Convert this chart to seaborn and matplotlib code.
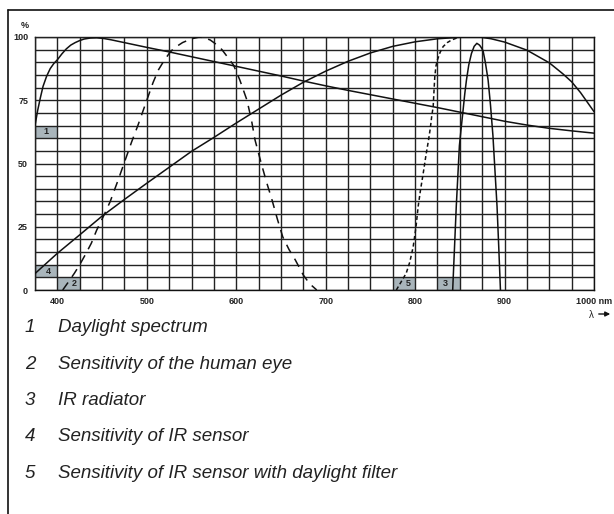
import numpy as np
import pandas as pd
import matplotlib
matplotlib.use("Agg")
import matplotlib.pyplot as plt
from matplotlib.patches import Rectangle
from matplotlib.lines import Line2D
import seaborn as sns

# ---- data (wavelength in nm, value in %) ----
daylight_nm = [375, 378, 381, 384, 388, 392, 396, 400, 405, 410, 415, 420, 425, 430,
               437, 444, 452, 460, 480, 500, 525, 550, 575, 600, 625, 650, 675, 700,
               725, 750, 775, 800, 825, 850, 875, 900, 925, 950, 975, 1000]
daylight_pct = [65, 71, 76, 80.5, 84.5, 87.5, 89.5, 91, 93.3, 95.3, 96.8, 97.8, 98.6, 99.2,
                99.6, 99.7, 99.4, 98.9, 97.4, 95.9, 94.1, 92.2, 90.3, 88.4, 86.5, 84.6, 82.6, 80.7,
                78.9, 77.2, 75.5, 73.8, 72.1, 70.3, 68.5, 66.7, 65.2, 63.9, 62.9, 62]

eye_nm = [406, 412, 419, 425, 431, 438, 444, 452, 459, 468, 475, 483, 490, 500, 507, 513,
          519, 525, 530, 540, 550, 559, 566, 571, 578, 584, 590, 597, 604, 612, 617, 621,
          628, 634, 640, 646, 652, 659, 666, 675, 682, 690]
eye_pct = [0, 3, 6.6, 10, 13.8, 18.5, 23.7, 29.5, 34.9, 43.5, 50.5, 58.5, 65, 75, 82, 87,
           90.5, 93.5, 95.5, 97.8, 99.3, 100, 99.5, 98.8, 97, 95, 92.2, 88.9, 83, 75, 67.2, 59.3,
           50, 42.5, 35.6, 28, 21, 16, 11.9, 5.9, 2.5, 0]

radiator_nm = [842, 846, 849.5, 851.5, 853.6, 855.5, 857.4, 860, 863, 866, 869, 872, 874,
               876, 878.5, 881.6, 884.3, 887, 889.3, 891.6, 893.5, 895.4]
radiator_pct = [0, 33, 57, 64, 71, 77.5, 83, 89, 93.5, 96.3, 97.5, 96.8, 95.8,
                94.5, 90, 83, 73, 61, 47, 33, 17, 0]

sensor_nm = [375, 400, 425, 450, 475, 500, 525, 550, 575, 600, 625, 650, 675, 700, 725,
             750, 775, 800, 825, 850, 872, 885, 900, 925, 950, 965, 975, 985, 1000]
sensor_pct = [6.5, 14.5, 21.8, 29.2, 35.8, 42.2, 48.5, 54.8, 60.3, 66, 71.5, 77, 82.1, 86.5, 90.4,
              93.7, 96.3, 98.1, 99.3, 99.9, 100, 99.3, 98, 94.8, 89.8, 85.5, 82.3, 78, 70.5]

filter_nm = [779, 784, 790, 794, 797.8, 801, 803.4, 806, 809, 812, 815, 817, 818.5, 820.2,
             821, 822, 823.3, 825, 828, 831.3, 836, 840.7, 848]
filter_pct = [0, 3, 6.6, 11, 17, 25, 33, 39.5, 46, 53, 59.3, 64, 68.5, 72.5,
              78, 84.3, 88.5, 91, 94, 96.2, 97.8, 98.8, 99.8]

# numbered grey cells: label, lower-left nm, lower-left %, text nm
cell_labels = ["1", "2", "3", "4", "5"]
cell_nm = [375, 400, 825, 375, 775]
cell_pct = [60, 0, 0, 5, 0]
cell_text_nm = [387.5, 419, 834, 390, 792]

legend_items = ["Daylight spectrum",
                "Sensitivity of the human eye",
                "IR radiator",
                "Sensitivity of IR sensor",
                "Sensitivity of IR sensor with daylight filter"]

x_ticks = [400, 500, 600, 700, 800, 900, 1000]
x_ticklabels = ["400", "500", "600", "700", "800", "900", "1000 nm"]
y_ticks = [0, 25, 50, 75, 100]

# ---- figure ----
sns.set_style("white")
plt.rcParams["font.family"] = ["Liberation Sans", "DejaVu Sans"]

W, H = 614, 514
fig = plt.figure(figsize=(W / 100, H / 100), dpi=100)
ax = fig.add_axes([35 / W, 1 - 290 / H, (594 - 35) / W, (290 - 37) / H])

ink = "#111111"

# grey label cells
for lab, x0, y0, tx in zip(cell_labels, cell_nm, cell_pct, cell_text_nm):
    ax.add_patch(Rectangle((x0, y0), 25, 5, facecolor="#a9b5bb", edgecolor="none", zorder=0.5))
    ax.text(tx, y0 + 2.5, lab, ha="center", va="center", fontsize=6.5,
            fontweight="bold", color="#222222", zorder=2)

curves = [
    (daylight_nm, daylight_pct, "-", None),
    (eye_nm, eye_pct, "--", (6, 4.5)),
    (radiator_nm, radiator_pct, "-", None),
    (sensor_nm, sensor_pct, "-", None),
    (filter_nm, filter_pct, "--", (2.6, 1.8)),
]
for xs, ys, ls, dash in curves:
    df = pd.DataFrame({"nm": xs, "pct": ys})
    line_kw = dict(color=ink, linewidth=1.1, zorder=3)
    ax_ = sns.lineplot(data=df, x="nm", y="pct", ax=ax, estimator=None, sort=False, **line_kw)
    ln = ax_.lines[-1]
    if dash is not None:
        ln.set_dashes(dash)

ax.set_xlim(375, 1000)
ax.set_ylim(0, 100)
ax.set_xticks(x_ticks)
ax.set_xticklabels(x_ticklabels)
ax.set_xticks(np.arange(375, 1001, 25), minor=True)
ax.set_yticks(y_ticks)
ax.set_yticks(np.arange(0, 101, 5), minor=True)
ax.grid(True, which="both", color="#222222", linewidth=1.0, zorder=1)
ax.set_axisbelow(False)
for art in ax.get_xgridlines() + ax.get_ygridlines():
    art.set_zorder(1)
ax.tick_params(which="both", length=0)
ax.tick_params(axis="x", pad=5, labelsize=6.5)
ax.tick_params(axis="y", pad=5, labelsize=6.5)
for t in ax.get_xticklabels() + ax.get_yticklabels():
    t.set_fontweight("bold")
    t.set_color("#222222")
for s in ax.spines.values():
    s.set_color(ink)
    s.set_linewidth(1.0)
ax.set_xlabel("")
ax.set_ylabel("")

# unit labels
fig.text(25 / W, 1 - 25 / H, "%", ha="center", va="center", fontsize=6.5,
         fontweight="bold", color="#222222")
fig.text(591 / W, 1 - 315 / H, "λ", ha="center", va="center", fontsize=7, color="#222222")
fig.add_artist(matplotlib.patches.FancyArrowPatch(
    (596 / W, 1 - 314 / H), (613 / W, 1 - 314 / H), transform=fig.transFigure,
    arrowstyle="-|>", mutation_scale=7, color=ink, linewidth=1.0))

# legend text below the chart
for i, txt in enumerate(legend_items):
    yy = 1 - (328 + 36.3 * i) / H
    fig.text(30 / W, yy, str(i + 1), ha="center", va="center", fontsize=13.5,
             style="italic", color="#222222")
    fig.text(58 / W, yy, txt, ha="left", va="center", fontsize=13.5,
             style="italic", color="#222222")

# outer frame (top and left edges)
fig.add_artist(Line2D([8 / W, 1], [1 - 10 / H, 1 - 10 / H], transform=fig.transFigure,
                      color=ink, linewidth=1.2))
fig.add_artist(Line2D([8 / W, 8 / W], [1 - 10 / H, 0], transform=fig.transFigure,
                      color=ink, linewidth=1.2))

fig.savefig("out.png", dpi=100)
